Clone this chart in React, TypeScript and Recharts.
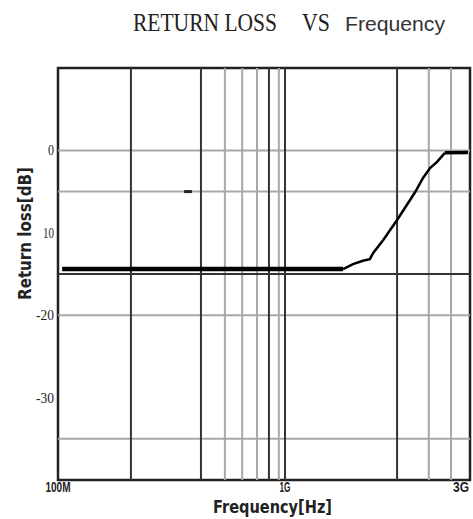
import React from "react";
import { LineChart, Line, XAxis, YAxis, ReferenceLine, ReferenceArea } from "recharts";

// x values are positions along the (non-uniform) frequency axis, 0..100
const xTickPositions = [0, 55.1, 100];
const xTickLabels = ["100M", "1G", "3G"];
const xTickWidths = [25, 11, 16];

const yTickValues = [0, -10, -20, -30];
const yTickLabels = ["0", "10", "-20", "-30"];
const yTickWidths = [6, 11, 18, 18];

const xGridDark = [17.7, 34.7, 51.2, 55.1, 82.3];
const xGridLight = [40.5, 44.7, 48.3, 53.6, 90.0, 95.4];
const yGridDark = [-15];
const yGridLight = [0, -5, -20, -35];

const lowFlatX = [1, 69.2];
const lowFlatDb = [-14.4, -14.4];
const riseX = [69.2, 71.6, 74.0, 75.7, 76.5, 78.9, 82.3, 84.7, 86.7, 88.6, 90.3, 92.0, 93.9];
const riseDb = [-14.4, -13.8, -13.4, -13.2, -12.45, -10.9, -8.45, -6.6, -5.05, -3.35, -2.14, -1.4, -0.3];
const highFlatX = [93.9, 99.5];
const highFlatDb = [-0.3, -0.25];
const markX = [30.6, 32.5];
const markDb = [-5, -5];

const toData = (xs: number[], ys: number[]) => xs.map((x, i) => ({ x, db: ys[i] }));

const XTick = (props: any) => {
  const { x, payload } = props;
  const i = xTickPositions.indexOf(payload.value);
  return (
    <text transform={`translate(${x},492) scale(1,1.25)`} x={0} y={0} textAnchor="middle" fontFamily="'Liberation Sans', Arial, sans-serif" fontWeight="bold" fontSize={11} fill="#222" textLength={xTickWidths[i]} lengthAdjust="spacingAndGlyphs">
      {xTickLabels[i]}
    </text>
  );
};

const YTick = (props: any) => {
  const { y, payload } = props;
  const i = yTickValues.indexOf(payload.value);
  return (
    <text transform={`translate(54,${y + 5}) scale(1,1.2)`} x={0} y={0} textAnchor="end" fontFamily="'Liberation Serif', serif" fontSize={12} fill="#222" textLength={yTickWidths[i]} lengthAdjust="spacingAndGlyphs">
      {yTickLabels[i]}
    </text>
  );
};

export default function App() {
  return (
    <div style={{ position: "absolute", left: 0, top: 0, width: 473, height: 519, background: "#fff" }}>
      <LineChart width={473} height={519} margin={{ top: 68, right: 3, bottom: 0, left: 0 }}>
        <XAxis type="number" dataKey="x" domain={[0, 100]} ticks={xTickPositions} tick={<XTick />} axisLine={false} tickLine={false} height={39} allowDataOverflow />
        <YAxis type="number" dataKey="db" domain={[-40, 10]} ticks={yTickValues} tick={<YTick />} axisLine={false} tickLine={false} width={58} allowDataOverflow />
        {yGridLight.map((v) => (
          <ReferenceLine key={"yl" + v} y={v} stroke="#a8a8a8" strokeWidth={2} />
        ))}
        {xGridLight.map((v) => (
          <ReferenceLine key={"xl" + v} x={v} stroke="#a8a8a8" strokeWidth={2} />
        ))}
        {yGridDark.map((v) => (
          <ReferenceLine key={"yd" + v} y={v} stroke="#333" strokeWidth={2} />
        ))}
        {xGridDark.map((v) => (
          <ReferenceLine key={"xd" + v} x={v} stroke="#333" strokeWidth={2} />
        ))}
        <ReferenceArea x1={0} x2={100} y1={-40} y2={10} fill="none" stroke="#222" strokeWidth={2.5} />
        <Line data={toData(markX, markDb)} dataKey="db" stroke="#222" strokeWidth={3} dot={false} isAnimationActive={false} />
        <Line data={toData(lowFlatX, lowFlatDb)} dataKey="db" stroke="#000" strokeWidth={4.5} dot={false} isAnimationActive={false} />
        <Line data={toData(riseX, riseDb)} dataKey="db" stroke="#000" strokeWidth={2.5} dot={false} isAnimationActive={false} />
        <Line data={toData(highFlatX, highFlatDb)} dataKey="db" stroke="#000" strokeWidth={3.5} dot={false} isAnimationActive={false} />
      </LineChart>
      <svg width={473} height={519} style={{ position: "absolute", left: 0, top: 0, pointerEvents: "none" }}>
        <text transform="translate(133,31) scale(1,1.3)" x={0} y={0} fontFamily="'Liberation Serif', serif" fontSize={19.5} fill="#222" textLength={144} lengthAdjust="spacingAndGlyphs">RETURN LOSS</text>
        <text transform="translate(302,31) scale(1,1.3)" x={0} y={0} fontFamily="'Liberation Serif', serif" fontSize={19.5} fill="#222" textLength={28} lengthAdjust="spacingAndGlyphs">VS</text>
        <text transform="translate(345,31) scale(1,1.25)" x={0} y={0} fontFamily="'Liberation Sans', sans-serif" fontSize={16.5} fill="#333" textLength={100} lengthAdjust="spacingAndGlyphs">Frequency</text>
        <text transform="translate(213,513) scale(1,1.3)" x={0} y={0} fontFamily="'DejaVu Sans', sans-serif" fontWeight="bold" fontSize={13.5} fill="#222" textLength={119} lengthAdjust="spacingAndGlyphs">Frequency[Hz]</text>
        <text transform="translate(31,300) rotate(-90)" x={0} y={0} fontFamily="'DejaVu Sans', sans-serif" fontWeight="bold" fontSize={17} fill="#222" textLength={133} lengthAdjust="spacingAndGlyphs">Return loss[dB]</text>
      </svg>
    </div>
  );
}
